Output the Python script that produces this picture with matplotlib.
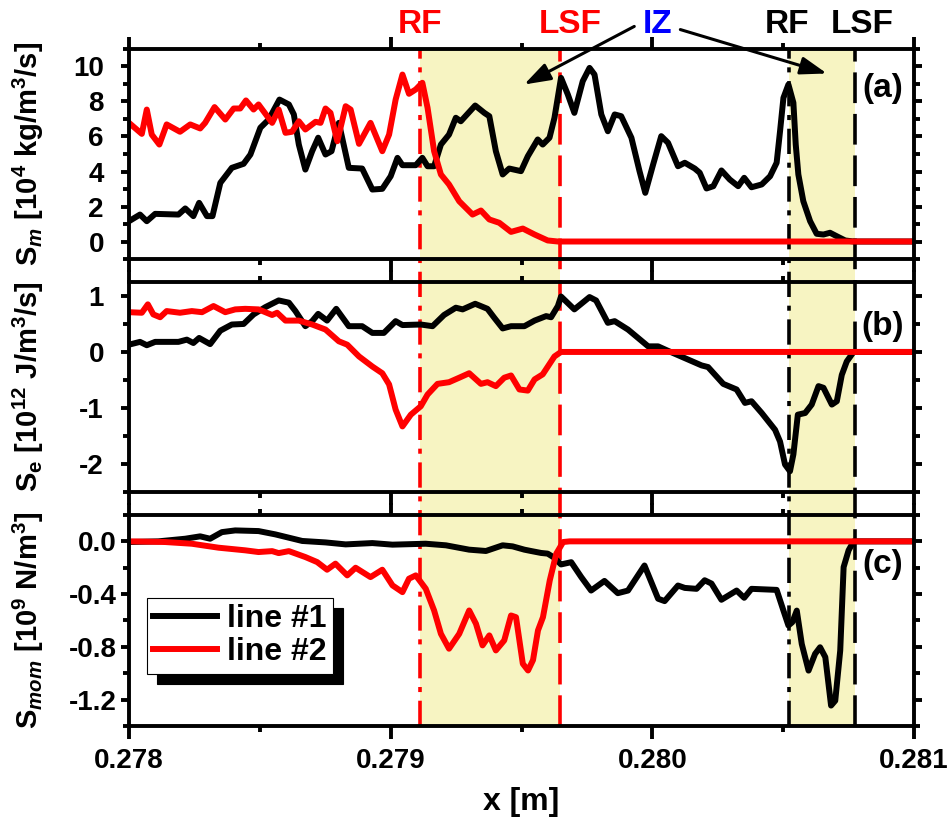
import numpy as np
import matplotlib
matplotlib.use("Agg")
from matplotlib import pyplot as plt
from matplotlib.ticker import MultipleLocator, FormatStrFormatter

plt.rcParams["font.family"] = "Liberation Sans"
plt.rcParams["font.weight"] = "bold"
plt.rcParams["axes.labelweight"] = "bold"
plt.rcParams["mathtext.fontset"] = "custom"
plt.rcParams["mathtext.rm"] = "Liberation Sans:bold"
plt.rcParams["mathtext.it"] = "Liberation Sans:italic:bold"
plt.rcParams["mathtext.bf"] = "Liberation Sans:bold"
plt.rcParams["axes.unicode_minus"] = False

# front positions [m]
rf_red, lsf_red = 0.279113, 0.279649
rf_blk, lsf_blk = 0.280522, 0.280773

# panel (a): S_m
xa_1 = [0.278000, 0.278042, 0.278068, 0.278100, 0.278189, 0.278215, 0.278246, 0.278268, 0.278298, 0.278319,
        0.278349, 0.278393, 0.278438, 0.278464, 0.278502, 0.278534, 0.278575, 0.278611, 0.278630, 0.278649,
        0.278674, 0.278700, 0.278723, 0.278751, 0.278774, 0.278802, 0.278840, 0.278891, 0.278930, 0.278968,
        0.279000, 0.279026, 0.279045, 0.279096, 0.279121, 0.279141, 0.279166, 0.279192, 0.279223, 0.279249,
        0.279268, 0.279323, 0.279358, 0.279377, 0.279402, 0.279428, 0.279453, 0.279498, 0.279524, 0.279562,
        0.279581, 0.279607, 0.279626, 0.279651, 0.279677, 0.279702, 0.279734, 0.279760, 0.279779, 0.279805,
        0.279830, 0.279856, 0.279881, 0.279920, 0.279951, 0.279973, 0.280003, 0.280034, 0.280060, 0.280098,
        0.280124, 0.280162, 0.280181, 0.280207, 0.280233, 0.280264, 0.280296, 0.280328, 0.280351, 0.280379,
        0.280418, 0.280450, 0.280475, 0.280488, 0.280501, 0.280520, 0.280539, 0.280548, 0.280558, 0.280577,
        0.280603, 0.280628, 0.280654, 0.280679, 0.280705, 0.280737, 0.280769, 0.281000]
sm_1 = [1.16, 1.54, 1.16, 1.58, 1.54, 1.89, 1.45, 2.21, 1.45, 1.45,
        3.35, 4.21, 4.44, 4.97, 6.50, 6.97, 8.11, 7.83, 7.26, 5.54,
        4.11, 5.16, 5.93, 4.97, 5.16, 6.78, 4.21, 4.17, 2.97, 3.01,
        3.73, 4.78, 4.36, 4.36, 4.78, 4.30, 4.30, 5.54, 6.11, 7.07,
        6.87, 7.77, 7.35, 7.16, 5.16, 3.83, 4.17, 4.02, 4.87, 5.83,
        5.54, 5.93, 7.07, 9.35, 8.40, 7.35, 9.16, 9.92, 9.54, 7.26,
        6.30, 7.26, 7.16, 5.93, 4.02, 2.78, 4.40, 6.02, 5.64, 4.30,
        4.50, 4.17, 3.93, 3.03, 3.16, 4.06, 3.54, 3.16, 3.64, 3.10,
        3.26, 3.73, 4.50, 6.30, 8.21, 8.97, 7.93, 5.54, 3.83, 2.30,
        1.16, 0.44, 0.40, 0.50, 0.30, 0.06, 0.00, 0.00]
xa_2 = [0.278000, 0.278049, 0.278068, 0.278087, 0.278116, 0.278144, 0.278195, 0.278234, 0.278272, 0.278291,
        0.278327, 0.278368, 0.278400, 0.278425, 0.278447, 0.278476, 0.278495, 0.278547, 0.278572, 0.278598,
        0.278623, 0.278649, 0.278674, 0.278713, 0.278732, 0.278751, 0.278770, 0.278796, 0.278828, 0.278847,
        0.278879, 0.278923, 0.278968, 0.278994, 0.279019, 0.279045, 0.279070, 0.279096, 0.279121, 0.279141,
        0.279166, 0.279192, 0.279223, 0.279262, 0.279313, 0.279345, 0.279377, 0.279415, 0.279460, 0.279505,
        0.279550, 0.279600, 0.279639, 0.281000]
sm_2 = [6.78, 6.15, 7.54, 6.11, 5.54, 6.69, 6.27, 6.69, 6.46, 6.78,
        7.68, 6.97, 7.60, 7.60, 8.06, 7.54, 7.83, 6.78, 7.54, 6.21,
        6.27, 6.87, 6.40, 6.84, 6.78, 7.60, 7.35, 5.73, 7.73, 7.54,
        5.58, 6.78, 5.16, 6.11, 8.11, 9.54, 8.44, 8.69, 9.07, 7.64,
        5.16, 3.83, 3.26, 2.30, 1.54, 1.77, 1.26, 1.07, 0.55, 0.74,
        0.40, 0.06, 0.00, 0.00]

# panel (b): S_e
xb_1 = [0.278000, 0.278042, 0.278068, 0.278100, 0.278189, 0.278221, 0.278246, 0.278268, 0.278310, 0.278349,
        0.278393, 0.278438, 0.278476, 0.278521, 0.278572, 0.278611, 0.278636, 0.278674, 0.278700, 0.278723,
        0.278757, 0.278792, 0.278840, 0.278891, 0.278930, 0.278974, 0.279019, 0.279045, 0.279115, 0.279160,
        0.279204, 0.279249, 0.279275, 0.279323, 0.279370, 0.279396, 0.279428, 0.279460, 0.279511, 0.279550,
        0.279594, 0.279613, 0.279639, 0.279651, 0.279702, 0.279760, 0.279785, 0.279830, 0.279856, 0.279907,
        0.279984, 0.280022, 0.280060, 0.280124, 0.280188, 0.280213, 0.280271, 0.280322, 0.280354, 0.280379,
        0.280418, 0.280469, 0.280488, 0.280507, 0.280526, 0.280539, 0.280556, 0.280584, 0.280609, 0.280635,
        0.280654, 0.280686, 0.280705, 0.280724, 0.280743, 0.280769, 0.281000]
se_1 = [0.13, 0.18, 0.12, 0.18, 0.18, 0.22, 0.16, 0.25, 0.14, 0.38,
        0.49, 0.50, 0.67, 0.80, 0.92, 0.88, 0.73, 0.46, 0.55, 0.68,
        0.56, 0.77, 0.46, 0.46, 0.34, 0.34, 0.55, 0.48, 0.49, 0.46,
        0.66, 0.79, 0.76, 0.86, 0.77, 0.61, 0.42, 0.46, 0.46, 0.56,
        0.64, 0.62, 0.82, 0.99, 0.76, 0.98, 0.92, 0.52, 0.55, 0.40,
        0.10, 0.10, 0.02, -0.11, -0.24, -0.27, -0.57, -0.67, -0.91, -0.88,
        -1.09, -1.39, -1.60, -2.01, -2.13, -1.83, -1.12, -1.09, -0.94, -0.61,
        -0.64, -0.94, -0.88, -0.41, -0.17, 0.00, 0.00]
xb_2 = [0.278000, 0.278049, 0.278072, 0.278093, 0.278119, 0.278144, 0.278195, 0.278240, 0.278279, 0.278323,
        0.278368, 0.278406, 0.278444, 0.278495, 0.278547, 0.278566, 0.278598, 0.278649, 0.278700, 0.278751,
        0.278802, 0.278834, 0.278879, 0.278930, 0.278968, 0.278994, 0.279019, 0.279045, 0.279077, 0.279115,
        0.279141, 0.279179, 0.279223, 0.279262, 0.279300, 0.279345, 0.279370, 0.279402, 0.279434, 0.279460,
        0.279492, 0.279524, 0.279550, 0.279581, 0.279626, 0.279651, 0.281000]
se_2 = [0.71, 0.70, 0.85, 0.67, 0.62, 0.73, 0.70, 0.73, 0.71, 0.82,
        0.71, 0.76, 0.77, 0.76, 0.66, 0.70, 0.56, 0.56, 0.49, 0.40,
        0.19, 0.13, -0.08, -0.26, -0.38, -0.58, -1.03, -1.33, -1.12, -0.97,
        -0.76, -0.57, -0.54, -0.46, -0.38, -0.57, -0.54, -0.61, -0.46, -0.42,
        -0.67, -0.69, -0.49, -0.40, -0.08, 0.00, 0.00]

# panel (c): S_mom
xc_1 = [0.278000, 0.278112, 0.278215, 0.278272, 0.278310, 0.278355, 0.278406, 0.278495, 0.278559, 0.278662,
        0.278751, 0.278828, 0.278930, 0.279007, 0.279134, 0.279211, 0.279300, 0.279364, 0.279428, 0.279466,
        0.279511, 0.279536, 0.279575, 0.279600, 0.279626, 0.279651, 0.279690, 0.279728, 0.279766, 0.279817,
        0.279868, 0.279907, 0.279970, 0.280022, 0.280047, 0.280098, 0.280124, 0.280169, 0.280200, 0.280226,
        0.280264, 0.280322, 0.280351, 0.280379, 0.280475, 0.280501, 0.280520, 0.280535, 0.280552, 0.280571,
        0.280597, 0.280622, 0.280641, 0.280661, 0.280683, 0.280699, 0.280718, 0.280731, 0.280750, 0.280769,
        0.281000]
smom_1 = [-0.005, 0.000, 0.020, 0.038, 0.020, 0.070, 0.083, 0.078, 0.053, 0.003,
          -0.008, -0.023, -0.013, -0.025, -0.018, -0.030, -0.063, -0.073, -0.030, -0.038,
          -0.063, -0.073, -0.088, -0.093, -0.125, -0.175, -0.158, -0.270, -0.373, -0.300,
          -0.393, -0.373, -0.183, -0.435, -0.453, -0.335, -0.353, -0.360, -0.295, -0.320,
          -0.443, -0.373, -0.428, -0.360, -0.368, -0.525, -0.638, -0.613, -0.525, -0.778,
          -0.980, -0.853, -0.803, -0.878, -1.245, -1.208, -0.828, -0.195, -0.068, 0.000,
          0.000]
xc_2 = [0.278000, 0.278138, 0.278240, 0.278342, 0.278444, 0.278495, 0.278547, 0.278572, 0.278611, 0.278674,
        0.278719, 0.278757, 0.278789, 0.278834, 0.278866, 0.278923, 0.278968, 0.279007, 0.279045, 0.279070,
        0.279096, 0.279134, 0.279166, 0.279192, 0.279223, 0.279262, 0.279300, 0.279326, 0.279351, 0.279377,
        0.279402, 0.279434, 0.279460, 0.279479, 0.279505, 0.279525, 0.279544, 0.279563, 0.279582, 0.279608,
        0.279633, 0.279659, 0.279684, 0.281000]
smom_2 = [0.000, -0.005, -0.018, -0.048, -0.068, -0.081, -0.074, -0.089, -0.074, -0.119,
          -0.157, -0.215, -0.169, -0.258, -0.200, -0.271, -0.215, -0.334, -0.385, -0.283,
          -0.258, -0.359, -0.524, -0.701, -0.814, -0.701, -0.524, -0.625, -0.789, -0.713,
          -0.827, -0.751, -0.562, -0.575, -0.928, -0.979, -0.900, -0.675, -0.575, -0.296,
          -0.093, -0.005, 0.000, 0.000]

shade = "#f7f4c2"
lw_c = 4.3
lw_ax = 2.8
lw_v = 2.6
dashdot = (0, (7.0, 2.4, 1.4, 2.4))
dashed = (0, (8.5, 3.0))

fig = plt.figure(figsize=(9.52, 8.22), dpi=100)
L, W = 0.1355, 0.8246

# background layer spanning all three panels: IZ shading and fronts
bg = fig.add_axes([L, 0.1168, W, 0.9404 - 0.1168], zorder=0)
bg.set_xlim(0.278, 0.281)
bg.set_ylim(0, 1)
bg.axis("off")
bg.axvspan(rf_red, lsf_red, color=shade, lw=0)
bg.axvspan(rf_blk, lsf_blk, color=shade, lw=0)
bg.axvline(rf_red, color="r", lw=lw_v, ls=dashdot)
bg.axvline(lsf_red, color="r", lw=lw_v, ls=dashed)
bg.axvline(rf_blk, color="k", lw=lw_v, ls=dashdot)
bg.axvline(lsf_blk, color="k", lw=lw_v, ls=dashed)

ax_a = fig.add_axes([L, 0.6849, W, 0.2555], zorder=1)
ax_b = fig.add_axes([L, 0.4015, W, 0.2555], zorder=1)
ax_c = fig.add_axes([L, 0.1168, W, 0.2567], zorder=1)

ax_a.plot(xa_1, sm_1, color="k", lw=lw_c)
ax_a.plot(xa_2, sm_2, color="r", lw=lw_c)
ax_b.plot(xb_1, se_1, color="k", lw=lw_c)
ax_b.plot(xb_2, se_2, color="r", lw=lw_c)
ax_c.plot(xc_1, smom_1, color="k", lw=lw_c, label="line #1")
ax_c.plot(xc_2, smom_2, color="r", lw=lw_c, label="line #2")

ax_a.set_ylim(-1, 11)
ax_a.yaxis.set_major_locator(MultipleLocator(2))
ax_a.yaxis.set_minor_locator(MultipleLocator(1))
ax_b.set_ylim(-2.5, 1.25)
ax_b.yaxis.set_major_locator(MultipleLocator(1))
ax_b.yaxis.set_minor_locator(MultipleLocator(0.5))
ax_c.set_ylim(-1.4, 0.2)
ax_c.yaxis.set_major_locator(MultipleLocator(0.4))
ax_c.yaxis.set_minor_locator(MultipleLocator(0.2))
ax_c.yaxis.set_major_formatter(FormatStrFormatter("%.1f"))

for ax, ypad in [(ax_a, 12), (ax_b, 12), (ax_c, 3)]:
    ax.set_facecolor("none")
    ax.set_xlim(0.278, 0.281)
    ax.xaxis.set_major_locator(MultipleLocator(0.001))
    ax.xaxis.set_minor_locator(MultipleLocator(0.0005))
    ax.xaxis.set_major_formatter(FormatStrFormatter("%.3f"))
    for s in ax.spines.values():
        s.set_linewidth(lw_ax)
    ax.tick_params(which="both", direction="out", top=True, right=True, width=lw_ax, labelsize=20)
    ax.tick_params(axis="x", which="major", length=9, pad=7)
    ax.tick_params(axis="x", which="minor", length=4.5)
    ax.tick_params(axis="y", which="major", length=6, pad=ypad)
    ax.tick_params(axis="y", which="minor", length=4.5)
    if ax is not ax_c:
        ax.tick_params(axis="x", labelbottom=False)

ax_a.set_ylabel(r"S$_{\mathit{m}}$ [10$^{4}$ kg/m$^{3}$/s]", fontsize=21)
ax_b.set_ylabel(r"S$_{\mathrm{e}}$ [10$^{12}$ J/m$^{3}$/s]", fontsize=21)
ax_c.set_ylabel(r"S$_{\mathit{mom}}$ [10$^{9}$ N/m$^{3}$]", fontsize=21)
for ax in (ax_a, ax_b, ax_c):
    ax.yaxis.set_label_coords(-0.106, 0.5)
ax_c.set_xlabel("x [m]", fontsize=23, labelpad=9)

ax_a.text(0.9605, 0.814, "(a)", transform=ax_a.transAxes, ha="center", va="center", fontsize=24)
ax_b.text(0.9605, 0.786, "(b)", transform=ax_b.transAxes, ha="center", va="center", fontsize=24)
ax_c.text(0.9605, 0.763, "(c)", transform=ax_c.transAxes, ha="center", va="center", fontsize=24)

# front labels above the top panel
tr = ax_a.get_xaxis_transform()
ax_a.text(0.279111, 1.076, "RF", transform=tr, color="r", ha="center", va="baseline", fontsize=24)
ax_a.text(0.279686, 1.076, "LSF", transform=tr, color="r", ha="center", va="baseline", fontsize=24)
ax_a.text(0.280019, 1.076, "IZ", transform=tr, color="#0000ff", ha="center", va="baseline", fontsize=24)
ax_a.text(0.280513, 1.076, "RF", transform=tr, color="k", ha="center", va="baseline", fontsize=24)
ax_a.text(0.280801, 1.076, "LSF", transform=tr, color="k", ha="center", va="baseline", fontsize=24)

arrow = dict(arrowstyle="-|>,head_length=0.8,head_width=0.27", color="k", lw=2.2,
             shrinkA=0, shrinkB=0, mutation_scale=20)
ax_a.annotate("", xy=(0.279510, 8.97), xytext=(0.279931, 12.29), arrowprops=arrow, annotation_clip=False)
ax_a.annotate("", xy=(0.280667, 9.6), xytext=(0.280107, 12.11), arrowprops=arrow, annotation_clip=False)

leg = ax_c.legend(loc="upper left", bbox_to_anchor=(0.023, 0.607), borderaxespad=0,
                  fancybox=False, edgecolor="k", framealpha=1,
                  shadow={"color": "k", "alpha": 1, "ox": 7, "oy": -7},
                  fontsize=23, handlelength=2.0, handletextpad=0.3,
                  borderpad=0.2, labelspacing=0.1)
leg.get_frame().set_linewidth(0.8)

fig.savefig("out.png", dpi=100)
